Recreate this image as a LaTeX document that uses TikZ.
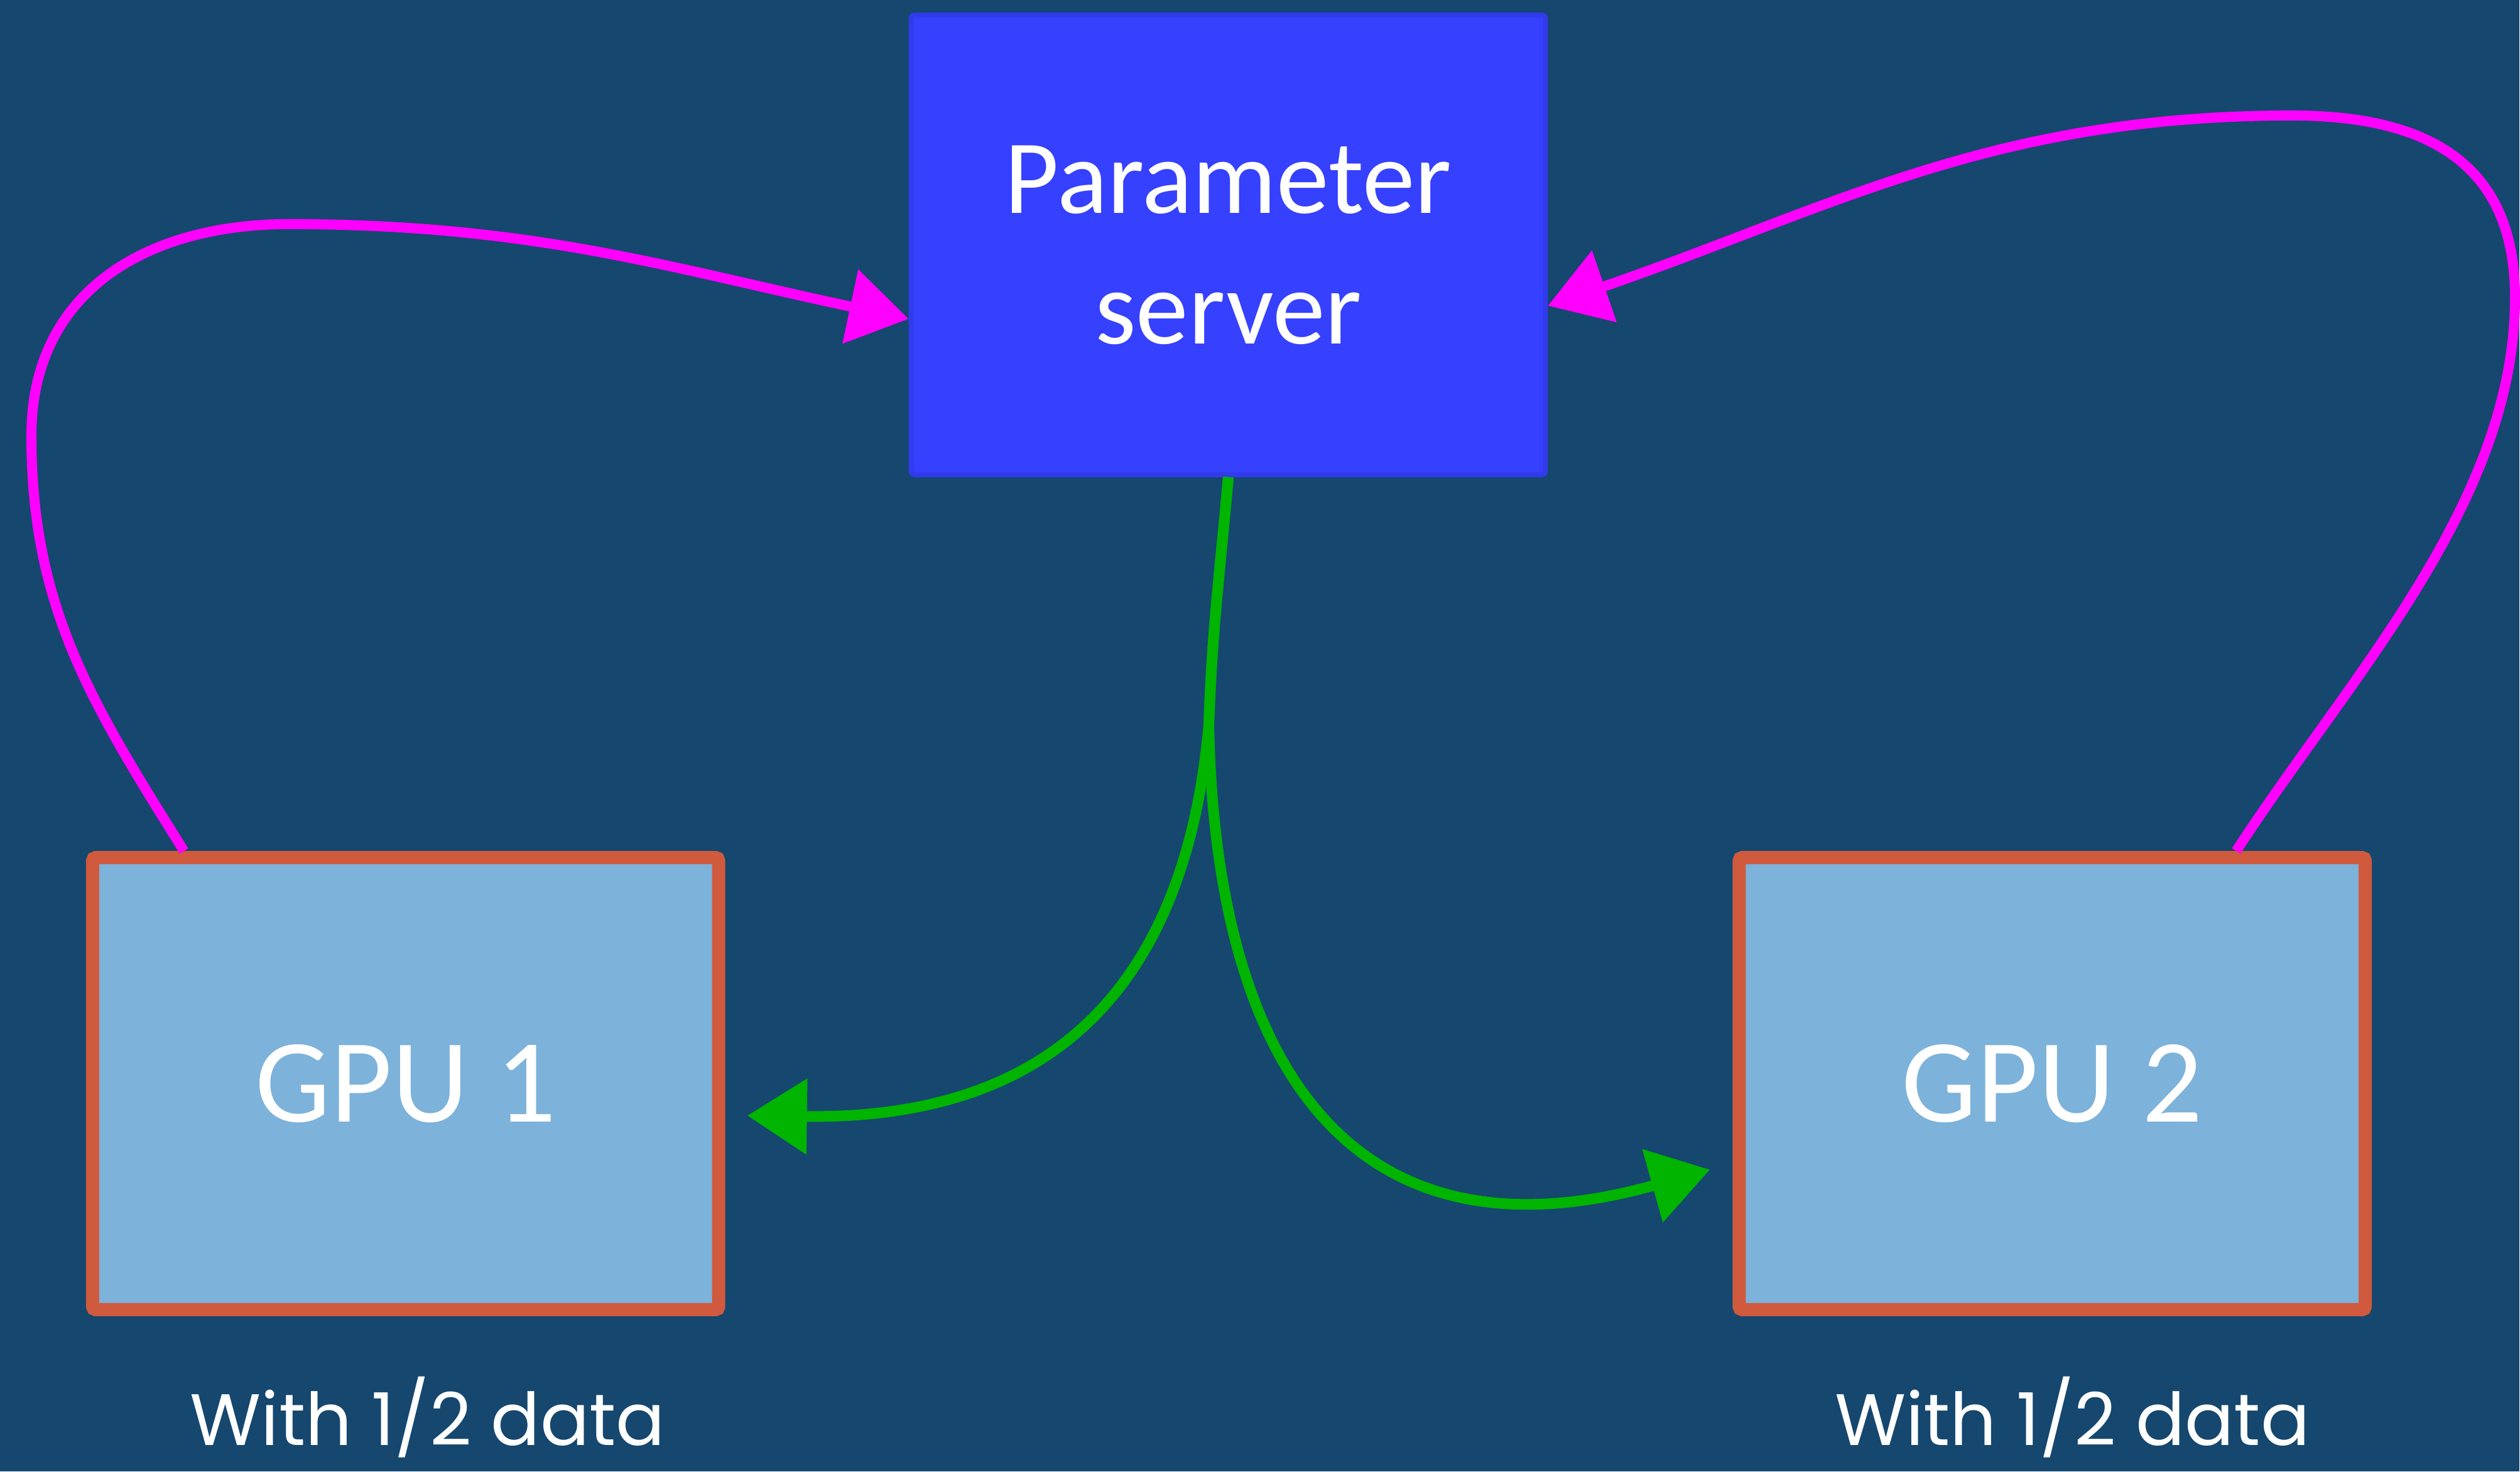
\documentclass[tikz,border=0pt]{standalone}
\usepackage{fontspec}
\setmainfont{Carlito}
\newfontfamily\gothicfont{Poppins}
\usepackage{tikz}
\usetikzlibrary{arrows.meta, calc}
\definecolor{bgBlue}{RGB}{21,71,111}
\definecolor{serverBlue}{RGB}{54,64,255}
\definecolor{gpuBlue}{RGB}{125,178,218}
\definecolor{gpuEdge}{RGB}{208,90,61}
\definecolor{pushPink}{RGB}{255,0,255}
\definecolor{pullGreen}{RGB}{0,180,0}

\begin{document}
\begin{tikzpicture}[
    >={Triangle[length=0.95cm, width=1.17cm]},
    server/.style={fill=serverBlue, draw=serverBlue!92!black, line width=0.08cm, rounded corners=0.05cm, minimum width=10.1cm, minimum height=7.32cm, inner sep=0pt, align=center, text=white, font=\fontsize{47.7}{59.2}\selectfont},
    gpu/.style={fill=gpuBlue, draw=gpuEdge, line width=0.21cm, rounded corners=0.05cm, minimum width=9.97cm, minimum height=7.2cm, inner sep=0pt, text=white, font=\fontsize{54}{60}\selectfont},
    datalabel/.style={text=white, font=\gothicfont\fontsize{33}{38}\selectfont, anchor=base},
    push/.style={->, pushPink, line width=0.16cm},
    pull/.style={->, pullGreen, line width=0.17cm}
]
    \fill[bgBlue] (0,0) rectangle (40.12,23.44);

    \node[server] (ps) at (19.56,19.54) {Parameter\\server};
    \node[gpu] (gpu1) at (6.46,6.18) {GPU 1};
    \node[gpu] (gpu2) at (32.68,6.18) {GPU 2};
    \node[datalabel] (data1) at (6.81,0.42) {With 1/2 data};
    \node[datalabel] (data2) at (33.0,0.42) {With 1/2 data};

    \draw[push] ([xshift=1.56cm]gpu1.north west) to[out=122,in=-90] (0.5,16.5)
        to[out=90,in=180,looseness=1.1] (4.6,19.87) to[out=0,in=168] ([yshift=-1.18cm]ps.west);
    \draw[push] ([xshift=-2.16cm]gpu2.north east) to[out=57,in=-90,looseness=0.85] (40.05,18.7)
        to[out=90,in=0,looseness=1.2] (36.5,21.6) to[out=180,in=19] ([yshift=-0.97cm]ps.east);

    \coordinate (split) at (19.25,11.9);
    \draw[pull] (ps.south) to[out=-95,in=88] (split)
        .. controls (18.9,8.0) and (17.0,5.6) .. ([shift={(0.35,-0.51)}]gpu1.east);
    \draw[pull] (ps.south) to[out=-95,in=88] (split)
        .. controls (19.35,6.5) and (21.5,3.2) .. ([shift={(-0.36,-1.37)}]gpu2.west);
\end{tikzpicture}
\end{document}
